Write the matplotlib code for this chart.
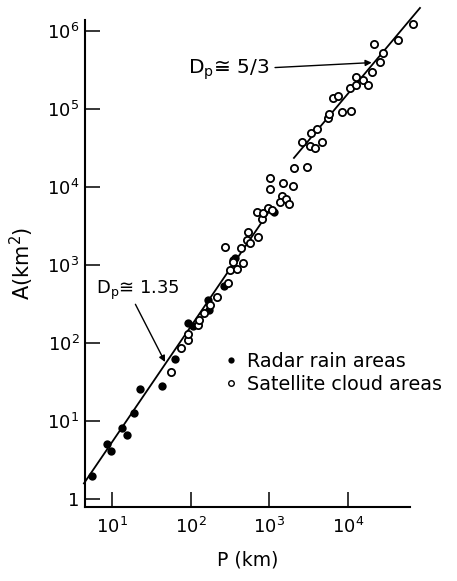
import matplotlib
matplotlib.use("Agg")
import matplotlib.pyplot as plt
from matplotlib.lines import Line2D
from matplotlib.ticker import FixedLocator, FuncFormatter, NullLocator

plt.rcParams['font.family'] = ['DejaVu Sans']
plt.rcParams['mathtext.default'] = 'regular'

# Radar rain areas (filled)
radar_P = [5.65, 8.71, 9.66, 13.6, 15.6, 19.0, 22.7, 43.2, 64.1, 92.5, 107, 167, 169,
           265, 348, 366, 1130]
radar_A = [1.97, 5.07, 4.12, 8.13, 6.62, 12.8, 25.7, 28.1, 61.8, 178, 163, 356, 265,
           530, 1160, 1220, 4820]

# Satellite cloud areas (open)
sat_P = [55.7, 75.3, 92.5, 93.3, 125, 129, 146, 176, 214, 301,
         312, 383, 348, 273, 462, 436, 520, 568, 541, 725,
         697, 800, 838, 970, 1072, 1019, 1019, 1500, 1980, 1435,
         1365, 1630, 1795, 2055, 3010, 2580, 3290, 3800, 4740, 3340,
         4040, 5610, 5730, 6500, 7530, 8320, 10900, 10600, 12600, 12800,
         15600, 18200, 20200, 25500, 28100, 21500, 43500, 67000]
sat_A = [42.9, 85.0, 109, 129, 170, 197, 239, 307, 392, 582,
         863, 876, 1090, 1690, 1050, 1650, 2060, 1900, 2670, 2310,
         4710, 3890, 4600, 5330, 5070, 12900, 9420, 11150, 10200, 7670,
         6480, 7020, 6050, 17400, 18200, 38100, 33500, 31300, 37200, 48800,
         55400, 76700, 86300, 137000, 147000, 92300, 94300, 184000, 203000, 260000,
         235000, 203000, 301000, 404000, 527000, 671000, 767000, 1230000]

# Fit line end points
low_P = [4.4, 1000]
low_A = [1.585, 4900]
high_P = [2055, 82200]
high_A = [23550, 1.97e6]

x_ticks = [1e1, 1e2, 1e3, 1e4]
y_ticks = [1, 1e1, 1e2, 1e3, 1e4, 1e5, 1e6]

fig = plt.figure(figsize=(4.57, 5.81), dpi=100)
ax = fig.add_axes([85/457, 1-506.7/581, 325/457, 486.7/581])
ax.set_xscale('log')
ax.set_yscale('log')
ax.set_xlim(10**0.657, 10**4.788)
ax.set_ylim(10**-0.099, 10**6.14)

ax.plot(low_P, low_A, color='black', lw=1.3, clip_on=False)
ax.plot(high_P, high_A, color='black', lw=1.3, clip_on=False)

ax.plot(radar_P, radar_A, 'o', color='black', ms=6.0, mew=0, clip_on=False, zorder=3)
ax.plot(sat_P, sat_A, 'o', mfc='white', mec='black', ms=5.2, mew=1.3, clip_on=False, zorder=3)

for s in ['top', 'right']:
    ax.spines[s].set_visible(False)
for s in ['left', 'bottom']:
    ax.spines[s].set_linewidth(1.5)

ax.xaxis.set_major_locator(FixedLocator(x_ticks))
ax.yaxis.set_major_locator(FixedLocator(y_ticks))
ax.xaxis.set_minor_locator(NullLocator())
ax.yaxis.set_minor_locator(NullLocator())

def fmt(v, pos):
    import math
    e = int(round(math.log10(v)))
    return '1' if e == 0 else r'$10^{%d}$' % e

ax.xaxis.set_major_formatter(FuncFormatter(fmt))
ax.yaxis.set_major_formatter(FuncFormatter(fmt))
ax.tick_params(direction='in', length=11, width=1.1, labelsize=13, pad=4)
ax.tick_params(axis='x', pad=7)

ax.set_xlabel('P (km)', fontsize=13.5, labelpad=10)
ax.set_ylabel(r'A(km$^2$)', fontsize=15, labelpad=8)

ax.annotate(r'D$_p$≅ 5/3', xy=(10**4.301, 10**5.594), xytext=(10**1.97, 10**5.50),
            fontsize=14.5, va='center', ha='left',
            arrowprops=dict(arrowstyle='-|>', color='black', lw=1.0,
                            mutation_scale=9, shrinkA=2, shrinkB=0))
ax.annotate(r'D$_p$≅ 1.35', xy=(10**1.674, 10**1.756), xytext=(10**0.80, 10**2.68),
            fontsize=13, va='center', ha='left',
            arrowprops=dict(arrowstyle='-|>', color='black', lw=1.0,
                            mutation_scale=9, shrinkA=0, shrinkB=0,
                            relpos=(0.45, 0.0)))

handles = [Line2D([], [], ls='none', marker='o', color='black', ms=4.5, mew=0),
           Line2D([], [], ls='none', marker='o', mfc='white', mec='black', ms=4.0, mew=1.0)]
ax.legend(handles, ['Radar rain areas', 'Satellite cloud areas'],
          loc='upper left', bbox_to_anchor=(0.43, 0.318), frameon=False,
          fontsize=13.8, handlelength=0.6, handletextpad=0.55, labelspacing=0.2,
          borderaxespad=0, borderpad=0)

fig.savefig('out.png', dpi=100)
